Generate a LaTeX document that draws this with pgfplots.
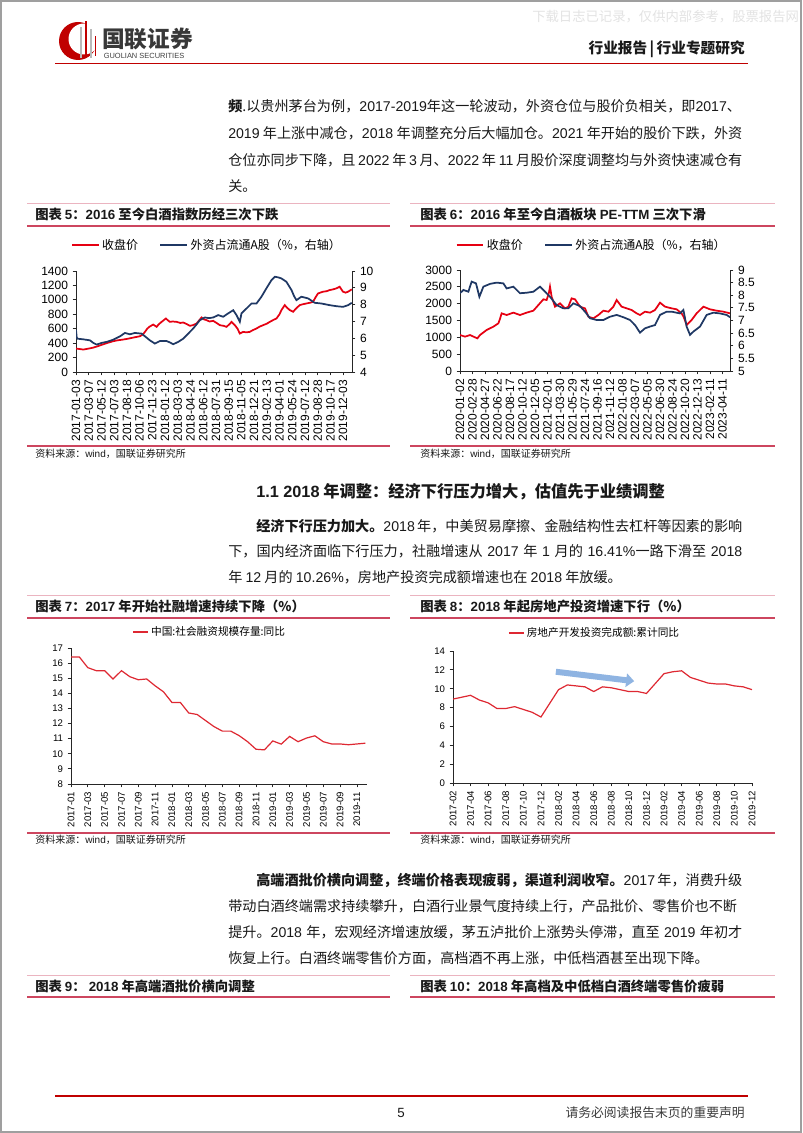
\documentclass[border=0pt]{standalone}
\usepackage{fontspec}
\setmainfont{Noto Sans CJK SC}
\newfontfamily\ar{Liberation Sans}
\usepackage{pgfplots}
\pgfplotsset{compat=1.18}
\usetikzlibrary{arrows.meta}
\XeTeXlinebreaklocale "zh"
\XeTeXlinebreakskip=0pt plus 2pt minus 0.3pt

\definecolor{cred}{RGB}{230,0,18}
\definecolor{cblue}{RGB}{31,56,100}
\definecolor{lred}{RGB}{222,40,50}
\definecolor{uline}{RGB}{205,70,95}
\definecolor{tline}{RGB}{235,180,192}
\definecolor{hred}{RGB}{192,0,0}
\definecolor{txt}{RGB}{25,25,25}
\definecolor{arrowblue}{RGB}{143,180,226}

\newcommand\A[1]{{\ar #1}}
\newcommand\bodyfont{\fontsize{10.6bp}{13bp}\selectfont}
\newcommand\titlefont{\fontsize{10bp}{12bp}\selectfont\bfseries}
\newcommand\srcfont{\fontsize{7.5bp}{9bp}\selectfont}
\newcommand\tickfont{\ar\fontsize{9bp}{10bp}\selectfont}
\newcommand\stickfont{\ar\fontsize{7.2bp}{8bp}\selectfont}
\newcommand\legfont{\fontsize{9bp}{10bp}\selectfont}
\newcommand\slegfont{\fontsize{8bp}{9bp}\selectfont}

\pgfplotsset{
  common/.style={scale only axis, anchor=south west,
    axis line style={-, black!85, line width=0.6bp},
    tick style={black!85, line width=0.6bp}, tick align=outside,
    major tick length=2.5bp,
    /pgf/number format/assume math mode=true,
    /pgf/number format/1000 sep={}, scaled ticks=false},
  leftax/.style={common, axis x line*=bottom, axis y line*=left,
    x tick label style={rotate=90, anchor=east, font=\tickfont},
    y tick label style={font=\tickfont}},
  rightax/.style={common, axis x line=none, axis y line*=right, xtick=\empty,
    y tick label style={font=\tickfont}},
  smallax/.style={common, axis x line*=bottom, axis y line*=left,
    x tick label style={rotate=90, anchor=east, font=\stickfont},
    y tick label style={font=\stickfont}},
}

\begin{document}
\begin{tikzpicture}
\begin{scope}[x=0.75bp,y=-0.75bp]
\useasboundingbox (0,0) rectangle (802,1133);
\fill[white] (0,0) rectangle (802,1133);
\draw[gray!75, line width=1.2bp] (0.8,0.8) rectangle (801.2,1132.2);
% watermark
\node[anchor=west, inner sep=0, text=black!11, font=\fontsize{10bp}{11bp}\selectfont] at (532,17) {下载日志已记录，仅供内部参考，股票报告网};
% logo
\fill[hred] (78,41) circle (19);
\fill[white] (84,39) circle (15.5);
\fill[gray!55] (80,27) rectangle (82.2,58);
\fill[hred] (85,21) rectangle (87.4,58);
\fill[gray!55] (90,29) rectangle (92.2,58);
\fill[hred] (94.5,36) rectangle (96.3,56);
\node[anchor=west, inner sep=0, text=black!78, font=\fontsize{17bp}{18bp}\selectfont\bfseries] at (102,39) {国联证券};
\node[anchor=west, inner sep=0, text=black!75, font=\ar\fontsize{5.6bp}{6bp}\selectfont] at (103.5,56) {GUOLIAN SECURITIES};
\node[anchor=east, inner sep=0, text=txt, font=\fontsize{11bp}{12bp}\selectfont\bfseries] at (745,49) {行业报告\,|\,行业专题研究};
\draw[hred, line width=1.3bp] (55,63.5) -- (748,63.5);
% paragraphs
\begin{scope}[every node/.style={anchor=base west, inner sep=0, text=txt, font=\bodyfont}]
\node at (228,112) {\makebox[385.5bp][s]{\textbf{频}.以贵州茅台为例，\A{2017-2019}年这一轮波动，外资仓位与股价负相关，即\A{2017}、}};
\node at (228,139) {\makebox[385.5bp][s]{\A{2019} 年上涨中减仓，\A{2018} 年调整充分后大幅加仓。\A{2021} 年开始的股价下跌，外资}};
\node at (228,166) {\makebox[385.5bp][s]{仓位亦同步下降，且 \A{2022} 年 \A{3} 月、\A{2022} 年 \A{11} 月股价深度调整均与外资快速减仓有}};
\node at (228,192) {关。};
\node[font=\fontsize{12.2bp}{14bp}\selectfont\bfseries] at (256,497) {\A{1.1 2018} 年调整：经济下行压力增大，估值先于业绩调整};
\node at (256,531) {\makebox[364.5bp][s]{\textbf{经济下行压力加大。}\A{2018} 年，中美贸易摩擦、金融结构性去杠杆等因素的影响}};
\node at (228,556) {\makebox[385.5bp][s]{下，国内经济面临下行压力，社融增速从 \A{2017} 年 \A{1} 月的 \A{16.41\%}一路下滑至 \A{2018}}};
\node at (228,582) {年 \A{12} 月的 \A{10.26\%}，房地产投资完成额增速也在 \A{2018} 年放缓。};
\node at (256,885) {\makebox[364.5bp][s]{\textbf{高端酒批价横向调整，终端价格表现疲弱，渠道利润收窄。}\A{2017} 年，消费升级}};
\node at (228,911) {\makebox[385.5bp][s]{带动白酒终端需求持续攀升，白酒行业景气度持续上行，产品批价、零售价也不断}};
\node at (228,937) {\makebox[385.5bp][s]{提升。\A{2018} 年，宏观经济增速放缓，茅五泸批价上涨势头停滞，直至 \A{2019} 年初才}};
\node at (228,963) {恢复上行。白酒终端零售价方面，高档酒不再上涨，中低档酒甚至出现下降。};
% chart titles
\node[font=\titlefont] at (35,219.5) {图表 \A{5}：\A{2016} 至今白酒指数历经三次下跌};
\node[font=\titlefont] at (420,219.5) {图表 \A{6}：\A{2016} 年至今白酒板块 \A{PE-TTM} 三次下滑};
\node[font=\titlefont] at (35,611.5) {图表 \A{7}：\A{2017} 年开始社融增速持续下降（\%）};
\node[font=\titlefont] at (420,611.5) {图表 \A{8}：\A{2018} 年起房地产投资增速下行（\%）};
\node[font=\titlefont] at (35,991.5) {图表 \A{9}：\ \A{2018} 年高端酒批价横向调整};
\node[font=\titlefont] at (420,991.5) {图表 \A{10}：\A{2018} 年高档及中低档白酒终端零售价疲弱};
\node[font=\srcfont] at (35,457) {资料来源：\A{wind}，国联证券研究所};
\node[font=\srcfont] at (420,457) {资料来源：\A{wind}，国联证券研究所};
\node[font=\srcfont] at (35,843) {资料来源：\A{wind}，国联证券研究所};
\node[font=\srcfont] at (420,843) {资料来源：\A{wind}，国联证券研究所};
\end{scope}
% chart frames
\foreach \yt/\yu in {203/226, 595/618, 975/997}{
  \draw[tline, line width=0.7bp] (27,\yt) -- (390,\yt);
  \draw[tline, line width=0.7bp] (410,\yt) -- (775,\yt);
  \draw[uline, line width=1.1bp] (27,\yu) -- (390,\yu);
  \draw[uline, line width=1.1bp] (410,\yu) -- (775,\yu);
}
\foreach \yb in {446, 833}{
  \draw[uline, line width=0.9bp] (27,\yb) -- (390,\yb);
  \draw[uline, line width=0.9bp] (410,\yb) -- (775,\yb);
}
% footer
\draw[hred, line width=1.3bp] (55,1096) -- (748,1096);
\node[anchor=base, inner sep=0, text=txt, font=\ar\fontsize{10bp}{11bp}\selectfont] at (401,1117) {5};
\node[anchor=base east, inner sep=0, text=txt!85, font=\fontsize{9.6bp}{11bp}\selectfont] at (745,1117) {请务必阅读报告末页的重要声明};
% axis anchors
\coordinate (p5) at (76,372);
\coordinate (p6) at (460,371);
\coordinate (p7) at (71,784);
\coordinate (p8) at (453,783);
\end{scope}

% ---------------- Chart 5 ----------------
\begin{axis}[leftax, at={(p5)}, width=207bp, height=75.75bp,
  xmin=0, xmax=21.7, ymin=0, ymax=1400, ytick={0,200,...,1400},
  xtick={0,...,21},
  xticklabels={2017-01-03,2017-03-07,2017-05-12,2017-07-03,2017-08-18,2017-10-06,2017-11-23,2018-01-12,2018-03-03,2018-04-24,2018-06-12,2018-07-31,2018-09-15,2018-11-05,2018-12-21,2019-02-13,2019-04-01,2019-05-24,2019-07-12,2019-08-28,2019-10-17,2019-12-03},
  legend columns=2,
  legend style={at={(axis description cs:0.476,1.257)}, anchor=center, draw=none, fill=none, font=\legfont, inner sep=0pt, /tikz/every even column/.append style={column sep=14bp}},
  legend image code/.code={\draw[#1] (0bp,0bp) -- (20bp,0bp);}]
\addplot[cred, line width=1.3bp] coordinates {(0,325) (0.3,318) (0.58,311) (1.0,325) (1.36,338) (1.75,360) (2.15,385) (2.5,405) (2.93,427) (3.3,440) (3.72,450) (4.1,462) (4.5,477) (5.03,496) (5.25,520) (5.42,556) (5.6,600) (5.76,626) (6.07,658) (6.34,626) (6.5,660) (6.73,695) (7.07,742) (7.2,720) (7.38,695) (7.6,700) (7.91,695) (8.2,680) (8.43,686) (8.7,665) (8.95,640) (9.2,650) (9.48,672) (9.7,720) (9.87,756) (10.05,730) (10.26,719) (10.5,700) (10.79,709) (11.05,680) (11.31,649) (11.6,640) (11.83,626) (12.05,660) (12.23,695) (12.49,649) (12.7,600) (12.88,533) (13.14,556) (13.4,550) (13.66,556) (13.9,580) (14.19,603) (14.45,630) (14.71,649) (15.0,670) (15.24,695) (15.5,720) (15.76,742) (16.0,800) (16.15,858) (16.41,927) (16.6,890) (16.81,858) (17.07,835) (17.3,880) (17.59,927) (17.85,940) (18.12,950) (18.4,960) (18.64,974) (18.85,1040) (19.03,1089) (19.42,1113) (19.7,1120) (19.95,1136) (20.2,1145) (20.47,1159) (20.73,1182) (20.99,1113) (21.2,1100) (21.39,1113) (21.68,1145)};
\addlegendentry{收盘价}
\addlegendimage{cblue, line width=1.3bp}
\addlegendentry{外资占流通A股（\%，右轴）}
\end{axis}
\begin{axis}[rightax, at={(p5)}, width=207bp, height=75.75bp,
  xmin=0, xmax=21.7, ymin=4, ymax=10, ytick={4,...,10}]
\addplot[cblue, line width=1.3bp] coordinates {(0,6.5) (0.05,6.1) (0.1,5.98) (0.58,5.94) (1.1,5.88) (1.36,5.73) (1.62,5.63) (2.02,5.73) (2.41,5.79) (2.93,5.92) (3.46,6.12) (3.85,6.32) (4.24,6.24) (4.63,6.32) (5.16,6.28) (5.42,6.12) (5.81,5.88) (6.2,5.69) (6.6,5.84) (7.12,5.84) (7.4,5.75) (7.64,5.65) (8.04,5.79) (8.43,5.98) (8.82,6.28) (9.21,6.58) (9.5,6.85) (9.74,7.08) (10.13,7.24) (10.45,7.2) (10.79,7.24) (11.18,7.38) (11.57,7.28) (11.96,7.48) (12.36,7.67) (12.62,7.38) (12.88,6.98) (13.01,7.48) (13.4,7.77) (13.8,8.07) (14.19,8.07) (14.58,8.47) (14.97,8.97) (15.37,9.46) (15.63,9.66) (15.9,9.62) (16.15,9.56) (16.54,9.36) (16.94,8.87) (17.15,8.5) (17.33,8.27) (17.72,8.47) (18.0,8.42) (18.25,8.37) (18.77,8.11) (19.29,8.07) (19.95,7.97) (20.47,7.91) (20.99,7.87) (21.39,7.97) (21.68,8.11)};
\end{axis}

% ---------------- Chart 6 ----------------
\begin{axis}[leftax, at={(p6)}, width=202.5bp, height=75.75bp,
  xmin=0, xmax=21.6, ymin=0, ymax=3000, ytick={0,500,...,3000},
  xtick={0,...,21},
  xticklabels={2020-01-02,2020-02-28,2020-04-27,2020-06-22,2020-08-17,2020-10-12,2020-12-05,2021-02-01,2021-03-30,2021-05-29,2021-07-24,2021-09-16,2021-11-12,2022-01-08,2022-03-07,2022-05-05,2022-06-30,2022-08-24,2022-10-20,2022-12-13,2023-02-11,2023-04-11},
  legend columns=2,
  legend style={at={(axis description cs:0.489,1.248)}, anchor=center, draw=none, fill=none, font=\legfont, inner sep=0pt, /tikz/every even column/.append style={column sep=14bp}},
  legend image code/.code={\draw[#1] (0bp,0bp) -- (20bp,0bp);}]
\addplot[cred, line width=1.3bp] coordinates {(0,1069) (0.4,1020) (0.8,1069) (1.2,1000) (1.39,970) (1.6,1069) (2.13,1218) (2.67,1317) (3.07,1416) (3.2,1550) (3.33,1713) (3.73,1663) (4.27,1733) (4.8,1663) (5.33,1733) (5.87,1792) (6.27,1960) (6.67,2129) (6.93,2109) (7.1,2300) (7.2,2505) (7.33,2208) (7.6,1911) (8.0,2010) (8.4,1861) (8.67,1911) (8.93,2158) (9.2,2129) (9.6,1911) (10.0,1861) (10.27,1614) (10.67,1564) (11.07,1663) (11.47,1792) (11.87,1762) (12.27,1911) (12.53,2109) (12.93,1911) (13.33,1861) (13.73,1812) (14.13,1713) (14.4,1663) (14.8,1762) (15.2,1733) (15.6,1812) (16.0,2030) (16.4,1911) (16.93,1861) (17.33,1832) (17.73,1713) (17.9,1600) (18.13,1366) (18.53,1515) (18.93,1713) (19.47,1911) (20.0,1832) (20.53,1792) (21.07,1762) (21.6,1713)};
\addlegendentry{收盘价}
\addlegendimage{cblue, line width=1.3bp}
\addlegendentry{外资占流通A股（\%，右轴）}
\end{axis}
\begin{axis}[rightax, at={(p6)}, width=202.5bp, height=75.75bp,
  xmin=0, xmax=21.6, ymin=5, ymax=9, ytick={5,5.5,...,9}]
\addplot[cblue, line width=1.3bp] coordinates {(0,8.08) (0.27,8.21) (0.67,8.14) (0.93,8.54) (1.28,8.47) (1.55,7.94) (1.87,8.34) (2.4,8.45) (2.93,8.5) (3.47,8.47) (3.73,8.27) (4.27,8.34) (4.8,8.08) (5.33,8.1) (5.87,8.14) (6.4,8.34) (6.8,8.14) (7.2,7.94) (7.73,7.61) (8.27,7.48) (8.67,7.48) (9.07,7.68) (9.6,7.57) (10.0,7.35) (10.4,7.09) (10.93,7.02) (11.47,7.02) (12.0,7.15) (12.53,7.22) (13.07,7.13) (13.6,7.02) (14.0,6.82) (14.4,6.52) (14.8,6.69) (15.2,6.76) (15.6,6.82) (16.0,7.22) (16.53,7.35) (16.93,7.35) (17.6,7.28) (17.87,7.42) (18.13,6.76) (18.4,6.43) (18.67,6.56) (19.2,6.76) (19.73,7.22) (20.27,7.31) (20.8,7.28) (21.33,7.22) (21.6,7.13)};
\end{axis}

% ---------------- Chart 7 ----------------
\begin{axis}[smallax, at={(p7)}, width=222bp, height=102bp,
  xmin=0, xmax=35.2, ymin=8, ymax=17, ytick={8,...,17},
  xtick={0,2,...,34},
  xticklabels={2017-01,2017-03,2017-05,2017-07,2017-09,2017-11,2018-01,2018-03,2018-05,2018-07,2018-09,2018-11,2019-01,2019-03,2019-05,2019-07,2019-09,2019-11},
  legend style={at={(axis description cs:0.47,1.118)}, anchor=center, draw=none, fill=none, font=\slegfont, inner sep=0pt},
  legend image code/.code={\draw[#1] (0bp,0bp) -- (11bp,0bp);}]
\addplot[lred, line width=0.9bp] coordinates {(0,16.41) (1,16.4) (2,15.7) (3,15.5) (4,15.5) (5,14.95) (6,15.5) (7,15.1) (8,14.9) (9,14.95) (10,14.5) (11,14.1) (12,13.4) (13,13.4) (14,12.7) (15,12.6) (16,12.2) (17,11.8) (18,11.5) (19,11.5) (20,11.2) (21,10.8) (22,10.3) (23,10.26) (24,10.85) (25,10.64) (26,11.15) (27,10.8) (28,11.04) (29,11.19) (30,10.8) (31,10.65) (32,10.65) (33,10.6) (34,10.65) (35,10.7)};
\addlegendentry{中国:社会融资规模存量:同比}
\end{axis}

% ---------------- Chart 8 ----------------
\begin{axis}[smallax, at={(p8)}, width=224.25bp, height=99bp,
  xmin=0, xmax=34, ymin=0, ymax=14, ytick={0,2,...,14},
  xtick={0,2,...,34},
  xticklabels={2017-02,2017-04,2017-06,2017-08,2017-10,2017-12,2018-02,2018-04,2018-06,2018-08,2018-10,2018-12,2019-02,2019-04,2019-06,2019-08,2019-10,2019-12},
  legend style={at={(axis description cs:0.475,1.136)}, anchor=center, draw=none, fill=none, font=\slegfont, inner sep=0pt},
  legend image code/.code={\draw[#1] (0bp,0bp) -- (11bp,0bp);}]
\addplot[lred, line width=0.9bp] coordinates {(0,8.9) (1,9.1) (2,9.3) (3,8.8) (4,8.5) (5,7.9) (6,7.9) (7,8.1) (8,7.8) (9,7.5) (10,7.0) (12,9.9) (13,10.4) (14,10.3) (15,10.2) (16,9.7) (17,10.2) (18,10.1) (19,9.9) (20,9.7) (21,9.7) (22,9.5) (24,11.6) (25,11.8) (26,11.9) (27,11.2) (28,10.9) (29,10.6) (30,10.5) (31,10.5) (32,10.3) (33,10.2) (34,9.9)};
\addlegendentry{房地产开发投资完成额:累计同比}
\addplot[arrowblue, line width=4.5bp, -{Triangle[length=6bp, width=10bp]}, forget plot] coordinates {(11.7,11.8) (20.6,10.8)};
\end{axis}
\end{tikzpicture}
\end{document}
